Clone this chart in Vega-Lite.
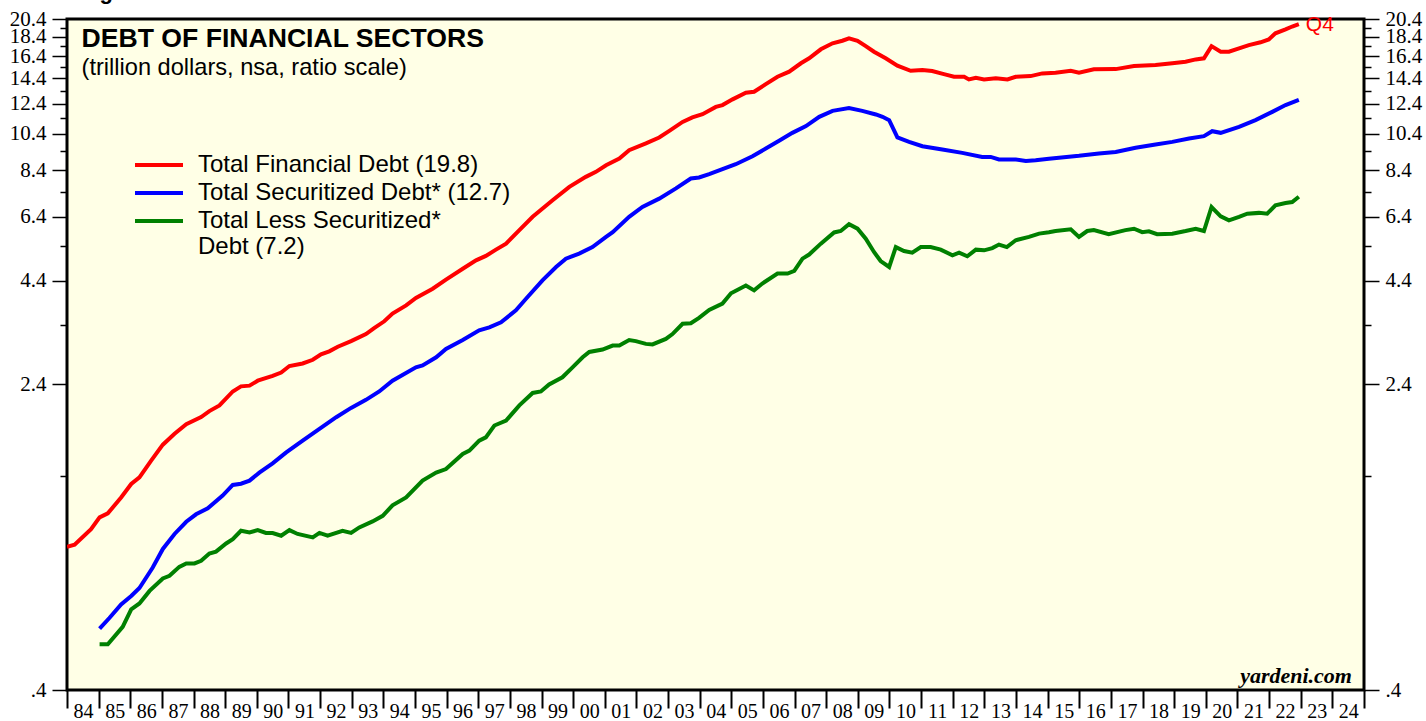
{
  "$schema": "https://vega.github.io/schema/vega-lite/v6.json",
  "width": 1297,
  "height": 671,
  "autosize": "none",
  "padding": {"left": 67, "top": 19, "right": 62, "bottom": 31},
  "background": "white",
  "config": {
    "font": "Liberation Sans",
    "view": {"fill": "#FFFFE6", "stroke": "black", "strokeWidth": 3}
  },
  "title": {"text": "Figure 3.", "anchor": "start", "frame": "group", "offset": -2, "dx": 13, "dy": 11, "baseline": "alphabetic", "font": "Liberation Sans", "fontSize": 22, "fontWeight": "bold", "color": "black"},
  "datasets": {
    "debt": [
      {"date":1984.0,"series":"Total Financial Debt (19.8)","value":0.926},
      {"date":1984.24,"series":"Total Financial Debt (19.8)","value":0.937},
      {"date":1984.76,"series":"Total Financial Debt (19.8)","value":1.027},
      {"date":1985.03,"series":"Total Financial Debt (19.8)","value":1.10},
      {"date":1985.29,"series":"Total Financial Debt (19.8)","value":1.126},
      {"date":1985.71,"series":"Total Financial Debt (19.8)","value":1.236},
      {"date":1986.03,"series":"Total Financial Debt (19.8)","value":1.338},
      {"date":1986.29,"series":"Total Financial Debt (19.8)","value":1.39},
      {"date":1986.66,"series":"Total Financial Debt (19.8)","value":1.534},
      {"date":1987.03,"series":"Total Financial Debt (19.8)","value":1.684},
      {"date":1987.40,"series":"Total Financial Debt (19.8)","value":1.796},
      {"date":1987.77,"series":"Total Financial Debt (19.8)","value":1.90},
      {"date":1988.24,"series":"Total Financial Debt (19.8)","value":1.98},
      {"date":1988.50,"series":"Total Financial Debt (19.8)","value":2.05},
      {"date":1988.82,"series":"Total Financial Debt (19.8)","value":2.12},
      {"date":1989.24,"series":"Total Financial Debt (19.8)","value":2.30},
      {"date":1989.50,"series":"Total Financial Debt (19.8)","value":2.37},
      {"date":1989.77,"series":"Total Financial Debt (19.8)","value":2.38},
      {"date":1990.03,"series":"Total Financial Debt (19.8)","value":2.45},
      {"date":1990.50,"series":"Total Financial Debt (19.8)","value":2.52},
      {"date":1990.77,"series":"Total Financial Debt (19.8)","value":2.57},
      {"date":1991.03,"series":"Total Financial Debt (19.8)","value":2.67},
      {"date":1991.45,"series":"Total Financial Debt (19.8)","value":2.71},
      {"date":1991.77,"series":"Total Financial Debt (19.8)","value":2.77},
      {"date":1992.03,"series":"Total Financial Debt (19.8)","value":2.86},
      {"date":1992.29,"series":"Total Financial Debt (19.8)","value":2.91},
      {"date":1992.56,"series":"Total Financial Debt (19.8)","value":2.99},
      {"date":1992.98,"series":"Total Financial Debt (19.8)","value":3.09},
      {"date":1993.45,"series":"Total Financial Debt (19.8)","value":3.22},
      {"date":1993.72,"series":"Total Financial Debt (19.8)","value":3.34},
      {"date":1994.03,"series":"Total Financial Debt (19.8)","value":3.47},
      {"date":1994.29,"series":"Total Financial Debt (19.8)","value":3.63},
      {"date":1994.72,"series":"Total Financial Debt (19.8)","value":3.81},
      {"date":1995.03,"series":"Total Financial Debt (19.8)","value":3.98},
      {"date":1995.56,"series":"Total Financial Debt (19.8)","value":4.20},
      {"date":1995.98,"series":"Total Financial Debt (19.8)","value":4.43},
      {"date":1996.51,"series":"Total Financial Debt (19.8)","value":4.72},
      {"date":1996.93,"series":"Total Financial Debt (19.8)","value":4.96},
      {"date":1997.24,"series":"Total Financial Debt (19.8)","value":5.09},
      {"date":1997.56,"series":"Total Financial Debt (19.8)","value":5.28},
      {"date":1997.88,"series":"Total Financial Debt (19.8)","value":5.47},
      {"date":1998.30,"series":"Total Financial Debt (19.8)","value":5.92},
      {"date":1998.72,"series":"Total Financial Debt (19.8)","value":6.40},
      {"date":1999.35,"series":"Total Financial Debt (19.8)","value":7.05},
      {"date":1999.88,"series":"Total Financial Debt (19.8)","value":7.63},
      {"date":2000.40,"series":"Total Financial Debt (19.8)","value":8.09},
      {"date":2000.72,"series":"Total Financial Debt (19.8)","value":8.33},
      {"date":2001.04,"series":"Total Financial Debt (19.8)","value":8.66},
      {"date":2001.46,"series":"Total Financial Debt (19.8)","value":9.01},
      {"date":2001.77,"series":"Total Financial Debt (19.8)","value":9.46},
      {"date":2002.30,"series":"Total Financial Debt (19.8)","value":9.84},
      {"date":2002.72,"series":"Total Financial Debt (19.8)","value":10.19},
      {"date":2003.04,"series":"Total Financial Debt (19.8)","value":10.59},
      {"date":2003.46,"series":"Total Financial Debt (19.8)","value":11.16},
      {"date":2003.77,"series":"Total Financial Debt (19.8)","value":11.46},
      {"date":2004.09,"series":"Total Financial Debt (19.8)","value":11.68},
      {"date":2004.51,"series":"Total Financial Debt (19.8)","value":12.19},
      {"date":2004.72,"series":"Total Financial Debt (19.8)","value":12.32},
      {"date":2005.04,"series":"Total Financial Debt (19.8)","value":12.74},
      {"date":2005.46,"series":"Total Financial Debt (19.8)","value":13.24},
      {"date":2005.72,"series":"Total Financial Debt (19.8)","value":13.32},
      {"date":2006.09,"series":"Total Financial Debt (19.8)","value":13.93},
      {"date":2006.46,"series":"Total Financial Debt (19.8)","value":14.54},
      {"date":2006.83,"series":"Total Financial Debt (19.8)","value":14.98},
      {"date":2007.20,"series":"Total Financial Debt (19.8)","value":15.74},
      {"date":2007.46,"series":"Total Financial Debt (19.8)","value":16.2},
      {"date":2007.83,"series":"Total Financial Debt (19.8)","value":17.08},
      {"date":2008.20,"series":"Total Financial Debt (19.8)","value":17.69},
      {"date":2008.51,"series":"Total Financial Debt (19.8)","value":17.96},
      {"date":2008.72,"series":"Total Financial Debt (19.8)","value":18.22},
      {"date":2008.99,"series":"Total Financial Debt (19.8)","value":17.96},
      {"date":2009.25,"series":"Total Financial Debt (19.8)","value":17.41},
      {"date":2009.51,"series":"Total Financial Debt (19.8)","value":16.84},
      {"date":2009.88,"series":"Total Financial Debt (19.8)","value":16.2},
      {"date":2010.25,"series":"Total Financial Debt (19.8)","value":15.52},
      {"date":2010.67,"series":"Total Financial Debt (19.8)","value":15.06},
      {"date":2011.04,"series":"Total Financial Debt (19.8)","value":15.12},
      {"date":2011.35,"series":"Total Financial Debt (19.8)","value":15.04},
      {"date":2011.72,"series":"Total Financial Debt (19.8)","value":14.77},
      {"date":2012.04,"series":"Total Financial Debt (19.8)","value":14.54},
      {"date":2012.36,"series":"Total Financial Debt (19.8)","value":14.54},
      {"date":2012.51,"series":"Total Financial Debt (19.8)","value":14.32},
      {"date":2012.73,"series":"Total Financial Debt (19.8)","value":14.45},
      {"date":2012.99,"series":"Total Financial Debt (19.8)","value":14.32},
      {"date":2013.36,"series":"Total Financial Debt (19.8)","value":14.41},
      {"date":2013.73,"series":"Total Financial Debt (19.8)","value":14.32},
      {"date":2013.99,"series":"Total Financial Debt (19.8)","value":14.54},
      {"date":2014.46,"series":"Total Financial Debt (19.8)","value":14.6},
      {"date":2014.83,"series":"Total Financial Debt (19.8)","value":14.83},
      {"date":2015.25,"series":"Total Financial Debt (19.8)","value":14.89},
      {"date":2015.73,"series":"Total Financial Debt (19.8)","value":15.06},
      {"date":2015.99,"series":"Total Financial Debt (19.8)","value":14.89},
      {"date":2016.46,"series":"Total Financial Debt (19.8)","value":15.19},
      {"date":2017.15,"series":"Total Financial Debt (19.8)","value":15.21},
      {"date":2017.73,"series":"Total Financial Debt (19.8)","value":15.48},
      {"date":2018.41,"series":"Total Financial Debt (19.8)","value":15.58},
      {"date":2018.94,"series":"Total Financial Debt (19.8)","value":15.74},
      {"date":2019.36,"series":"Total Financial Debt (19.8)","value":15.88},
      {"date":2019.68,"series":"Total Financial Debt (19.8)","value":16.1},
      {"date":2019.94,"series":"Total Financial Debt (19.8)","value":16.2},
      {"date":2020.18,"series":"Total Financial Debt (19.8)","value":17.4},
      {"date":2020.47,"series":"Total Financial Debt (19.8)","value":16.84},
      {"date":2020.73,"series":"Total Financial Debt (19.8)","value":16.84},
      {"date":2021.05,"series":"Total Financial Debt (19.8)","value":17.18},
      {"date":2021.36,"series":"Total Financial Debt (19.8)","value":17.51},
      {"date":2021.73,"series":"Total Financial Debt (19.8)","value":17.8},
      {"date":2021.99,"series":"Total Financial Debt (19.8)","value":18.1},
      {"date":2022.20,"series":"Total Financial Debt (19.8)","value":18.76},
      {"date":2022.52,"series":"Total Financial Debt (19.8)","value":19.2},
      {"date":2022.73,"series":"Total Financial Debt (19.8)","value":19.52},
      {"date":2022.94,"series":"Total Financial Debt (19.8)","value":19.8},

      {"date":1985.03,"series":"Total Securitized Debt* (12.7)","value":0.573},
      {"date":1985.34,"series":"Total Securitized Debt* (12.7)","value":0.61},
      {"date":1985.71,"series":"Total Securitized Debt* (12.7)","value":0.66},
      {"date":1986.03,"series":"Total Securitized Debt* (12.7)","value":0.694},
      {"date":1986.29,"series":"Total Securitized Debt* (12.7)","value":0.727},
      {"date":1986.71,"series":"Total Securitized Debt* (12.7)","value":0.82},
      {"date":1987.03,"series":"Total Securitized Debt* (12.7)","value":0.914},
      {"date":1987.40,"series":"Total Securitized Debt* (12.7)","value":0.998},
      {"date":1987.77,"series":"Total Securitized Debt* (12.7)","value":1.072},
      {"date":1988.08,"series":"Total Securitized Debt* (12.7)","value":1.12},
      {"date":1988.45,"series":"Total Securitized Debt* (12.7)","value":1.16},
      {"date":1988.92,"series":"Total Securitized Debt* (12.7)","value":1.25},
      {"date":1989.24,"series":"Total Securitized Debt* (12.7)","value":1.33},
      {"date":1989.50,"series":"Total Securitized Debt* (12.7)","value":1.34},
      {"date":1989.77,"series":"Total Securitized Debt* (12.7)","value":1.364},
      {"date":1990.08,"series":"Total Securitized Debt* (12.7)","value":1.43},
      {"date":1990.50,"series":"Total Securitized Debt* (12.7)","value":1.51},
      {"date":1990.93,"series":"Total Securitized Debt* (12.7)","value":1.61},
      {"date":1991.45,"series":"Total Securitized Debt* (12.7)","value":1.724},
      {"date":1991.98,"series":"Total Securitized Debt* (12.7)","value":1.847},
      {"date":1992.51,"series":"Total Securitized Debt* (12.7)","value":1.978},
      {"date":1992.98,"series":"Total Securitized Debt* (12.7)","value":2.089},
      {"date":1993.45,"series":"Total Securitized Debt* (12.7)","value":2.19},
      {"date":1993.87,"series":"Total Securitized Debt* (12.7)","value":2.30},
      {"date":1994.29,"series":"Total Securitized Debt* (12.7)","value":2.45},
      {"date":1995.03,"series":"Total Securitized Debt* (12.7)","value":2.65},
      {"date":1995.24,"series":"Total Securitized Debt* (12.7)","value":2.68},
      {"date":1995.67,"series":"Total Securitized Debt* (12.7)","value":2.81},
      {"date":1995.98,"series":"Total Securitized Debt* (12.7)","value":2.95},
      {"date":1996.51,"series":"Total Securitized Debt* (12.7)","value":3.11},
      {"date":1997.03,"series":"Total Securitized Debt* (12.7)","value":3.29},
      {"date":1997.35,"series":"Total Securitized Debt* (12.7)","value":3.35},
      {"date":1997.72,"series":"Total Securitized Debt* (12.7)","value":3.45},
      {"date":1998.19,"series":"Total Securitized Debt* (12.7)","value":3.70},
      {"date":1998.51,"series":"Total Securitized Debt* (12.7)","value":3.96},
      {"date":1999.03,"series":"Total Securitized Debt* (12.7)","value":4.41},
      {"date":1999.46,"series":"Total Securitized Debt* (12.7)","value":4.77},
      {"date":1999.77,"series":"Total Securitized Debt* (12.7)","value":5.01},
      {"date":2000.19,"series":"Total Securitized Debt* (12.7)","value":5.16},
      {"date":2000.61,"series":"Total Securitized Debt* (12.7)","value":5.36},
      {"date":2001.04,"series":"Total Securitized Debt* (12.7)","value":5.69},
      {"date":2001.25,"series":"Total Securitized Debt* (12.7)","value":5.85},
      {"date":2001.77,"series":"Total Securitized Debt* (12.7)","value":6.40},
      {"date":2002.19,"series":"Total Securitized Debt* (12.7)","value":6.78},
      {"date":2002.72,"series":"Total Securitized Debt* (12.7)","value":7.12},
      {"date":2003.25,"series":"Total Securitized Debt* (12.7)","value":7.56},
      {"date":2003.72,"series":"Total Securitized Debt* (12.7)","value":8.01},
      {"date":2003.98,"series":"Total Securitized Debt* (12.7)","value":8.06},
      {"date":2004.30,"series":"Total Securitized Debt* (12.7)","value":8.22},
      {"date":2004.72,"series":"Total Securitized Debt* (12.7)","value":8.46},
      {"date":2005.14,"series":"Total Securitized Debt* (12.7)","value":8.71},
      {"date":2005.67,"series":"Total Securitized Debt* (12.7)","value":9.13},
      {"date":2006.09,"series":"Total Securitized Debt* (12.7)","value":9.55},
      {"date":2006.51,"series":"Total Securitized Debt* (12.7)","value":9.99},
      {"date":2006.93,"series":"Total Securitized Debt* (12.7)","value":10.47},
      {"date":2007.36,"series":"Total Securitized Debt* (12.7)","value":10.89},
      {"date":2007.78,"series":"Total Securitized Debt* (12.7)","value":11.5},
      {"date":2008.20,"series":"Total Securitized Debt* (12.7)","value":11.91},
      {"date":2008.72,"series":"Total Securitized Debt* (12.7)","value":12.1},
      {"date":2009.14,"series":"Total Securitized Debt* (12.7)","value":11.91},
      {"date":2009.57,"series":"Total Securitized Debt* (12.7)","value":11.66},
      {"date":2009.78,"series":"Total Securitized Debt* (12.7)","value":11.5},
      {"date":2009.99,"series":"Total Securitized Debt* (12.7)","value":11.28},
      {"date":2010.25,"series":"Total Securitized Debt* (12.7)","value":10.19},
      {"date":2010.62,"series":"Total Securitized Debt* (12.7)","value":9.93},
      {"date":2011.04,"series":"Total Securitized Debt* (12.7)","value":9.68},
      {"date":2011.67,"series":"Total Securitized Debt* (12.7)","value":9.50},
      {"date":2012.30,"series":"Total Securitized Debt* (12.7)","value":9.31},
      {"date":2012.93,"series":"Total Securitized Debt* (12.7)","value":9.09},
      {"date":2013.20,"series":"Total Securitized Debt* (12.7)","value":9.09},
      {"date":2013.46,"series":"Total Securitized Debt* (12.7)","value":8.96},
      {"date":2013.99,"series":"Total Securitized Debt* (12.7)","value":8.96},
      {"date":2014.31,"series":"Total Securitized Debt* (12.7)","value":8.88},
      {"date":2014.62,"series":"Total Securitized Debt* (12.7)","value":8.92},
      {"date":2015.04,"series":"Total Securitized Debt* (12.7)","value":9.0},
      {"date":2015.99,"series":"Total Securitized Debt* (12.7)","value":9.15},
      {"date":2016.62,"series":"Total Securitized Debt* (12.7)","value":9.28},
      {"date":2017.15,"series":"Total Securitized Debt* (12.7)","value":9.36},
      {"date":2017.78,"series":"Total Securitized Debt* (12.7)","value":9.59},
      {"date":2018.41,"series":"Total Securitized Debt* (12.7)","value":9.78},
      {"date":2018.94,"series":"Total Securitized Debt* (12.7)","value":9.93},
      {"date":2019.47,"series":"Total Securitized Debt* (12.7)","value":10.13},
      {"date":2019.94,"series":"Total Securitized Debt* (12.7)","value":10.27},
      {"date":2020.20,"series":"Total Securitized Debt* (12.7)","value":10.57},
      {"date":2020.47,"series":"Total Securitized Debt* (12.7)","value":10.47},
      {"date":2021.05,"series":"Total Securitized Debt* (12.7)","value":10.84},
      {"date":2021.57,"series":"Total Securitized Debt* (12.7)","value":11.28},
      {"date":2022.10,"series":"Total Securitized Debt* (12.7)","value":11.84},
      {"date":2022.52,"series":"Total Securitized Debt* (12.7)","value":12.32},
      {"date":2022.94,"series":"Total Securitized Debt* (12.7)","value":12.7},

      {"date":1985.03,"series":"Total Less Securitized* Debt (7.2)","value":0.523},
      {"date":1985.29,"series":"Total Less Securitized* Debt (7.2)","value":0.523},
      {"date":1985.76,"series":"Total Less Securitized* Debt (7.2)","value":0.579},
      {"date":1986.03,"series":"Total Less Securitized* Debt (7.2)","value":0.642},
      {"date":1986.29,"series":"Total Less Securitized* Debt (7.2)","value":0.664},
      {"date":1986.61,"series":"Total Less Securitized* Debt (7.2)","value":0.715},
      {"date":1987.03,"series":"Total Less Securitized* Debt (7.2)","value":0.769},
      {"date":1987.24,"series":"Total Less Securitized* Debt (7.2)","value":0.781},
      {"date":1987.55,"series":"Total Less Securitized* Debt (7.2)","value":0.823},
      {"date":1987.77,"series":"Total Less Securitized* Debt (7.2)","value":0.84},
      {"date":1988.03,"series":"Total Less Securitized* Debt (7.2)","value":0.84},
      {"date":1988.24,"series":"Total Less Securitized* Debt (7.2)","value":0.853},
      {"date":1988.50,"series":"Total Less Securitized* Debt (7.2)","value":0.89},
      {"date":1988.71,"series":"Total Less Securitized* Debt (7.2)","value":0.90},
      {"date":1989.03,"series":"Total Less Securitized* Debt (7.2)","value":0.944},
      {"date":1989.24,"series":"Total Less Securitized* Debt (7.2)","value":0.968},
      {"date":1989.50,"series":"Total Less Securitized* Debt (7.2)","value":1.017},
      {"date":1989.77,"series":"Total Less Securitized* Debt (7.2)","value":1.007},
      {"date":1990.03,"series":"Total Less Securitized* Debt (7.2)","value":1.021},
      {"date":1990.29,"series":"Total Less Securitized* Debt (7.2)","value":1.004},
      {"date":1990.50,"series":"Total Less Securitized* Debt (7.2)","value":1.003},
      {"date":1990.77,"series":"Total Less Securitized* Debt (7.2)","value":0.988},
      {"date":1991.03,"series":"Total Less Securitized* Debt (7.2)","value":1.021},
      {"date":1991.29,"series":"Total Less Securitized* Debt (7.2)","value":0.998},
      {"date":1991.77,"series":"Total Less Securitized* Debt (7.2)","value":0.978},
      {"date":1991.98,"series":"Total Less Securitized* Debt (7.2)","value":1.004},
      {"date":1992.24,"series":"Total Less Securitized* Debt (7.2)","value":0.988},
      {"date":1992.71,"series":"Total Less Securitized* Debt (7.2)","value":1.017},
      {"date":1992.98,"series":"Total Less Securitized* Debt (7.2)","value":1.004},
      {"date":1993.24,"series":"Total Less Securitized* Debt (7.2)","value":1.037},
      {"date":1993.66,"series":"Total Less Securitized* Debt (7.2)","value":1.074},
      {"date":1993.98,"series":"Total Less Securitized* Debt (7.2)","value":1.11},
      {"date":1994.29,"series":"Total Less Securitized* Debt (7.2)","value":1.18},
      {"date":1994.72,"series":"Total Less Securitized* Debt (7.2)","value":1.236},
      {"date":1995.24,"series":"Total Less Securitized* Debt (7.2)","value":1.364},
      {"date":1995.67,"series":"Total Less Securitized* Debt (7.2)","value":1.43},
      {"date":1995.98,"series":"Total Less Securitized* Debt (7.2)","value":1.46},
      {"date":1996.51,"series":"Total Less Securitized* Debt (7.2)","value":1.595},
      {"date":1996.72,"series":"Total Less Securitized* Debt (7.2)","value":1.626},
      {"date":1997.03,"series":"Total Less Securitized* Debt (7.2)","value":1.724},
      {"date":1997.24,"series":"Total Less Securitized* Debt (7.2)","value":1.758},
      {"date":1997.51,"series":"Total Less Securitized* Debt (7.2)","value":1.884},
      {"date":1997.88,"series":"Total Less Securitized* Debt (7.2)","value":1.94},
      {"date":1998.30,"series":"Total Less Securitized* Debt (7.2)","value":2.12},
      {"date":1998.72,"series":"Total Less Securitized* Debt (7.2)","value":2.28},
      {"date":1998.98,"series":"Total Less Securitized* Debt (7.2)","value":2.30},
      {"date":1999.24,"series":"Total Less Securitized* Debt (7.2)","value":2.396},
      {"date":1999.66,"series":"Total Less Securitized* Debt (7.2)","value":2.50},
      {"date":1999.98,"series":"Total Less Securitized* Debt (7.2)","value":2.65},
      {"date":2000.30,"series":"Total Less Securitized* Debt (7.2)","value":2.81},
      {"date":2000.51,"series":"Total Less Securitized* Debt (7.2)","value":2.90},
      {"date":2000.93,"series":"Total Less Securitized* Debt (7.2)","value":2.94},
      {"date":2001.25,"series":"Total Less Securitized* Debt (7.2)","value":3.01},
      {"date":2001.46,"series":"Total Less Securitized* Debt (7.2)","value":3.01},
      {"date":2001.77,"series":"Total Less Securitized* Debt (7.2)","value":3.11},
      {"date":2001.98,"series":"Total Less Securitized* Debt (7.2)","value":3.09},
      {"date":2002.30,"series":"Total Less Securitized* Debt (7.2)","value":3.04},
      {"date":2002.51,"series":"Total Less Securitized* Debt (7.2)","value":3.03},
      {"date":2002.93,"series":"Total Less Securitized* Debt (7.2)","value":3.13},
      {"date":2003.14,"series":"Total Less Securitized* Debt (7.2)","value":3.22},
      {"date":2003.46,"series":"Total Less Securitized* Debt (7.2)","value":3.42},
      {"date":2003.72,"series":"Total Less Securitized* Debt (7.2)","value":3.43},
      {"date":2003.98,"series":"Total Less Securitized* Debt (7.2)","value":3.54},
      {"date":2004.30,"series":"Total Less Securitized* Debt (7.2)","value":3.71},
      {"date":2004.72,"series":"Total Less Securitized* Debt (7.2)","value":3.85},
      {"date":2004.99,"series":"Total Less Securitized* Debt (7.2)","value":4.09},
      {"date":2005.46,"series":"Total Less Securitized* Debt (7.2)","value":4.28},
      {"date":2005.72,"series":"Total Less Securitized* Debt (7.2)","value":4.16},
      {"date":2005.98,"series":"Total Less Securitized* Debt (7.2)","value":4.33},
      {"date":2006.46,"series":"Total Less Securitized* Debt (7.2)","value":4.59},
      {"date":2006.78,"series":"Total Less Securitized* Debt (7.2)","value":4.59},
      {"date":2006.99,"series":"Total Less Securitized* Debt (7.2)","value":4.66},
      {"date":2007.25,"series":"Total Less Securitized* Debt (7.2)","value":5.01},
      {"date":2007.46,"series":"Total Less Securitized* Debt (7.2)","value":5.13},
      {"date":2007.83,"series":"Total Less Securitized* Debt (7.2)","value":5.47},
      {"date":2008.25,"series":"Total Less Securitized* Debt (7.2)","value":5.84},
      {"date":2008.46,"series":"Total Less Securitized* Debt (7.2)","value":5.89},
      {"date":2008.72,"series":"Total Less Securitized* Debt (7.2)","value":6.13},
      {"date":2008.99,"series":"Total Less Securitized* Debt (7.2)","value":5.97},
      {"date":2009.25,"series":"Total Less Securitized* Debt (7.2)","value":5.63},
      {"date":2009.51,"series":"Total Less Securitized* Debt (7.2)","value":5.21},
      {"date":2009.72,"series":"Total Less Securitized* Debt (7.2)","value":4.94},
      {"date":2009.99,"series":"Total Less Securitized* Debt (7.2)","value":4.77},
      {"date":2010.20,"series":"Total Less Securitized* Debt (7.2)","value":5.36},
      {"date":2010.46,"series":"Total Less Securitized* Debt (7.2)","value":5.24},
      {"date":2010.72,"series":"Total Less Securitized* Debt (7.2)","value":5.19},
      {"date":2010.99,"series":"Total Less Securitized* Debt (7.2)","value":5.36},
      {"date":2011.30,"series":"Total Less Securitized* Debt (7.2)","value":5.36},
      {"date":2011.62,"series":"Total Less Securitized* Debt (7.2)","value":5.28},
      {"date":2011.99,"series":"Total Less Securitized* Debt (7.2)","value":5.11},
      {"date":2012.20,"series":"Total Less Securitized* Debt (7.2)","value":5.19},
      {"date":2012.46,"series":"Total Less Securitized* Debt (7.2)","value":5.08},
      {"date":2012.73,"series":"Total Less Securitized* Debt (7.2)","value":5.28},
      {"date":2012.99,"series":"Total Less Securitized* Debt (7.2)","value":5.26},
      {"date":2013.25,"series":"Total Less Securitized* Debt (7.2)","value":5.33},
      {"date":2013.46,"series":"Total Less Securitized* Debt (7.2)","value":5.44},
      {"date":2013.71,"series":"Total Less Securitized* Debt (7.2)","value":5.36},
      {"date":2013.99,"series":"Total Less Securitized* Debt (7.2)","value":5.58},
      {"date":2014.41,"series":"Total Less Securitized* Debt (7.2)","value":5.69},
      {"date":2014.73,"series":"Total Less Securitized* Debt (7.2)","value":5.80},
      {"date":2015.04,"series":"Total Less Securitized* Debt (7.2)","value":5.85},
      {"date":2015.25,"series":"Total Less Securitized* Debt (7.2)","value":5.89},
      {"date":2015.73,"series":"Total Less Securitized* Debt (7.2)","value":5.95},
      {"date":2015.99,"series":"Total Less Securitized* Debt (7.2)","value":5.69},
      {"date":2016.25,"series":"Total Less Securitized* Debt (7.2)","value":5.89},
      {"date":2016.46,"series":"Total Less Securitized* Debt (7.2)","value":5.92},
      {"date":2016.93,"series":"Total Less Securitized* Debt (7.2)","value":5.78},
      {"date":2017.46,"series":"Total Less Securitized* Debt (7.2)","value":5.92},
      {"date":2017.73,"series":"Total Less Securitized* Debt (7.2)","value":5.97},
      {"date":2017.99,"series":"Total Less Securitized* Debt (7.2)","value":5.85},
      {"date":2018.20,"series":"Total Less Securitized* Debt (7.2)","value":5.88},
      {"date":2018.46,"series":"Total Less Securitized* Debt (7.2)","value":5.78},
      {"date":2018.94,"series":"Total Less Securitized* Debt (7.2)","value":5.80},
      {"date":2019.36,"series":"Total Less Securitized* Debt (7.2)","value":5.89},
      {"date":2019.68,"series":"Total Less Securitized* Debt (7.2)","value":5.97},
      {"date":2019.94,"series":"Total Less Securitized* Debt (7.2)","value":5.89},
      {"date":2020.18,"series":"Total Less Securitized* Debt (7.2)","value":6.78},
      {"date":2020.47,"series":"Total Less Securitized* Debt (7.2)","value":6.42},
      {"date":2020.73,"series":"Total Less Securitized* Debt (7.2)","value":6.27},
      {"date":2021.05,"series":"Total Less Securitized* Debt (7.2)","value":6.40},
      {"date":2021.31,"series":"Total Less Securitized* Debt (7.2)","value":6.52},
      {"date":2021.68,"series":"Total Less Securitized* Debt (7.2)","value":6.55},
      {"date":2021.94,"series":"Total Less Securitized* Debt (7.2)","value":6.52},
      {"date":2022.20,"series":"Total Less Securitized* Debt (7.2)","value":6.85},
      {"date":2022.52,"series":"Total Less Securitized* Debt (7.2)","value":6.94},
      {"date":2022.73,"series":"Total Less Securitized* Debt (7.2)","value":6.98},
      {"date":2022.94,"series":"Total Less Securitized* Debt (7.2)","value":7.2}
    ]
  },
  "resolve": {"axis": {"y": "independent"}},
  "layer": [
    {
      "data": {"name": "debt"},
      "mark": {"type": "line", "strokeWidth": 4, "clip": true},
      "encoding": {
        "x": {
          "field": "date", "type": "quantitative",
          "scale": {"domain": [1984, 2025], "nice": false, "zero": false},
          "axis": {
            "title": null, "domain": false, "grid": false,
            "values": [1984,1985,1986,1987,1988,1989,1990,1991,1992,1993,1994,1995,1996,1997,1998,1999,2000,2001,2002,2003,2004,2005,2006,2007,2008,2009,2010,2011,2012,2013,2014,2015,2016,2017,2018,2019,2020,2021,2022,2023,2024,2025],
            "labelExpr": "datum.value >= 2025 ? '' : slice(toString(datum.value), 2)",
            "tickSize": 18, "tickWidth": 2, "tickColor": "black",
            "labelOffset": 16, "labelAlign": "center", "labelPadding": -7,
            "labelFlush": false, "labelOverlap": false,
            "labelFont": "Liberation Serif", "labelFontSize": 20, "labelColor": "black"
          }
        },
        "y": {
          "field": "value", "type": "quantitative",
          "scale": {"type": "log", "domain": [0.4, 20.4], "nice": false, "zero": false},
          "axis": {
            "orient": "left", "title": null, "domain": false, "grid": false,
            "values": [0.4,1.4,2.4,3.4,4.4,5.4,6.4,7.4,8.4,9.4,10.4,11.4,12.4,13.4,14.4,15.4,16.4,17.4,18.4,19.4,20.4],
            "labelExpr": "round(datum.value*10) % 20 == 4 ? (datum.value < 1 ? '.4' : format(datum.value, '.1f')) : ''",
            "tickSize": {"condition": {"test": "round(datum.value*10) % 20 == 4", "value": 15}, "value": 7},
            "tickWidth": 1.5, "tickColor": "black",
            "labelPadding": 6, "labelOverlap": false, "labelFlush": false,
            "labelFont": "Liberation Serif", "labelFontSize": 21, "labelColor": "black"
          }
        },
        "color": {
          "field": "series", "type": "nominal",
          "scale": {
            "domain": ["Total Financial Debt (19.8)", "Total Securitized Debt* (12.7)", "Total Less Securitized* Debt (7.2)"],
            "range": ["#FF0000", "#0000FF", "#008000"]
          },
          "legend": {
            "title": null, "orient": "none", "legendX": 66, "legendY": 132,
            "gridAlign": "none", "clipHeight": 28,
            "symbolType": "stroke", "symbolSize": 2304, "symbolStrokeWidth": 4,
            "labelFont": "Liberation Sans", "labelFontSize": 24, "labelColor": "black",
            "labelOffset": 13, "rowPadding": 0, "padding": 0, "labelLimit": 500,
            "labelExpr": "datum.label == 'Total Less Securitized* Debt (7.2)' ? ['Total Less Securitized*', 'Debt (7.2)'] : datum.label"
          }
        }
      }
    },
    {
      "data": {"name": "debt"},
      "transform": [{"filter": "datum.series == 'Total Financial Debt (19.8)' && datum.date == 2022.94"}],
      "mark": {"type": "text", "align": "left", "baseline": "middle", "dx": 7, "dy": 1, "font": "Liberation Sans", "fontSize": 21, "color": "#FF0000"},
      "encoding": {
        "x": {
          "field": "date", "type": "quantitative",
          "scale": {"domain": [1984, 2025], "nice": false, "zero": false},
          "axis": {
            "title": null, "domain": false, "grid": false,
            "values": [1984,1985,1986,1987,1988,1989,1990,1991,1992,1993,1994,1995,1996,1997,1998,1999,2000,2001,2002,2003,2004,2005,2006,2007,2008,2009,2010,2011,2012,2013,2014,2015,2016,2017,2018,2019,2020,2021,2022,2023,2024,2025],
            "labelExpr": "datum.value >= 2025 ? '' : slice(toString(datum.value), 2)",
            "tickSize": 18, "tickWidth": 2, "tickColor": "black",
            "labelOffset": 16, "labelAlign": "center", "labelPadding": -7,
            "labelFlush": false, "labelOverlap": false,
            "labelFont": "Liberation Serif", "labelFontSize": 20, "labelColor": "black"
          }
        },
        "y": {
          "field": "value", "type": "quantitative",
          "scale": {"type": "log", "domain": [0.4, 20.4], "nice": false, "zero": false},
          "axis": {
            "orient": "right", "title": null, "domain": false, "grid": false,
            "values": [0.4,1.4,2.4,3.4,4.4,5.4,6.4,7.4,8.4,9.4,10.4,11.4,12.4,13.4,14.4,15.4,16.4,17.4,18.4,19.4,20.4],
            "labelExpr": "round(datum.value*10) % 20 == 4 ? (datum.value < 1 ? '.4' : format(datum.value, '.1f')) : ''",
            "tickSize": {"condition": {"test": "round(datum.value*10) % 20 == 4", "value": 15}, "value": 7},
            "tickWidth": 1.5, "tickColor": "black",
            "labelPadding": 6, "labelOverlap": false, "labelFlush": false,
            "labelFont": "Liberation Serif", "labelFontSize": 21, "labelColor": "black"
          }
        },
        "text": {"value": "Q4"}
      }
    },
    {
      "data": {"values": [{"label": "DEBT OF FINANCIAL SECTORS"}]},
      "mark": {"type": "text", "align": "left", "baseline": "alphabetic", "font": "Liberation Sans", "fontSize": 26.6, "fontWeight": "bold", "color": "black"},
      "encoding": {
        "x": {
          "datum": 1984.46, "type": "quantitative",
          "scale": {"domain": [1984, 2025], "nice": false, "zero": false},
          "axis": {
            "title": null, "domain": false, "grid": false,
            "values": [1984,1985,1986,1987,1988,1989,1990,1991,1992,1993,1994,1995,1996,1997,1998,1999,2000,2001,2002,2003,2004,2005,2006,2007,2008,2009,2010,2011,2012,2013,2014,2015,2016,2017,2018,2019,2020,2021,2022,2023,2024,2025],
            "labelExpr": "datum.value >= 2025 ? '' : slice(toString(datum.value), 2)",
            "tickSize": 18, "tickWidth": 2, "tickColor": "black",
            "labelOffset": 16, "labelAlign": "center", "labelPadding": -7,
            "labelFlush": false, "labelOverlap": false,
            "labelFont": "Liberation Serif", "labelFontSize": 20, "labelColor": "black"
          }
        },
        "y": {"datum": 17.3, "type": "quantitative", "axis": null},
        "text": {"field": "label"}
      }
    },
    {
      "data": {"values": [{"label": "(trillion dollars, nsa, ratio scale)"}]},
      "mark": {"type": "text", "align": "left", "baseline": "alphabetic", "font": "Liberation Sans", "fontSize": 23.6, "color": "black"},
      "encoding": {
        "x": {
          "datum": 1984.46, "type": "quantitative",
          "scale": {"domain": [1984, 2025], "nice": false, "zero": false},
          "axis": {
            "title": null, "domain": false, "grid": false,
            "values": [1984,1985,1986,1987,1988,1989,1990,1991,1992,1993,1994,1995,1996,1997,1998,1999,2000,2001,2002,2003,2004,2005,2006,2007,2008,2009,2010,2011,2012,2013,2014,2015,2016,2017,2018,2019,2020,2021,2022,2023,2024,2025],
            "labelExpr": "datum.value >= 2025 ? '' : slice(toString(datum.value), 2)",
            "tickSize": 18, "tickWidth": 2, "tickColor": "black",
            "labelOffset": 16, "labelAlign": "center", "labelPadding": -7,
            "labelFlush": false, "labelOverlap": false,
            "labelFont": "Liberation Serif", "labelFontSize": 20, "labelColor": "black"
          }
        },
        "y": {"datum": 14.7, "type": "quantitative", "axis": null},
        "text": {"field": "label"}
      }
    },
    {
      "data": {"values": [{"label": "yardeni.com"}]},
      "mark": {"type": "text", "align": "right", "baseline": "alphabetic", "font": "Liberation Serif", "fontSize": 22, "fontWeight": "bold", "fontStyle": "italic", "color": "black"},
      "encoding": {
        "x": {
          "datum": 2024.62, "type": "quantitative",
          "scale": {"domain": [1984, 2025], "nice": false, "zero": false},
          "axis": {
            "title": null, "domain": false, "grid": false,
            "values": [1984,1985,1986,1987,1988,1989,1990,1991,1992,1993,1994,1995,1996,1997,1998,1999,2000,2001,2002,2003,2004,2005,2006,2007,2008,2009,2010,2011,2012,2013,2014,2015,2016,2017,2018,2019,2020,2021,2022,2023,2024,2025],
            "labelExpr": "datum.value >= 2025 ? '' : slice(toString(datum.value), 2)",
            "tickSize": 18, "tickWidth": 2, "tickColor": "black",
            "labelOffset": 16, "labelAlign": "center", "labelPadding": -7,
            "labelFlush": false, "labelOverlap": false,
            "labelFont": "Liberation Serif", "labelFontSize": 20, "labelColor": "black"
          }
        },
        "y": {"datum": 0.417, "type": "quantitative", "axis": null},
        "text": {"field": "label"}
      }
    }
  ]
}
